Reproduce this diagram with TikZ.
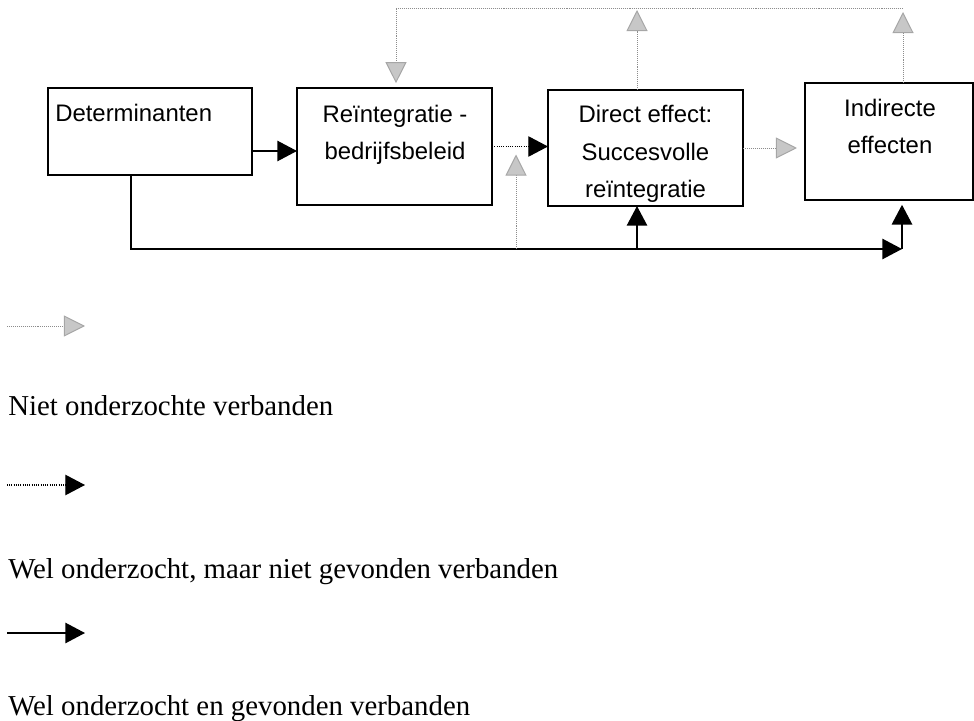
\documentclass[tikz,border=0pt]{standalone}
\usepackage{fontspec}
\setmainfont{Liberation Serif}
\newfontfamily\boxfont{Liberation Sans}
\usetikzlibrary{arrows.meta, positioning, calc}

\begin{document}
\begin{tikzpicture}[x=0.025cm, y=-0.025cm,
    box/.style={draw, line width=1pt, inner sep=0pt, outer sep=0pt},
    boxtext/.style={font=\boxfont\fontsize{17}{26.7}\selectfont, align=center, inner sep=0pt},
    found/.style={line width=1.1pt, -{Triangle[length=14pt, width=14.5pt]}},
    notfound/.style={line width=0.9pt, dash pattern=on 0.7pt off 0.9pt, -{Triangle[length=14pt, width=14.5pt]}},
    notstudied/.style={draw=black!45, line width=0.7pt, dash pattern=on 0.6pt off 0.8pt, -{Triangle[length=15pt, width=15pt, fill=black!22, color=black!35]}},
    legend/.style={font=\fontsize{20.5}{24}\selectfont, anchor=base west, inner sep=0pt}]
    \useasboundingbox (0,0) rectangle (974,721);

    % boxes
    \node[box, minimum width=5.1cm, minimum height=2.175cm] (det) at (150,131.5) {};
    \node[box, minimum width=4.875cm, minimum height=2.925cm] (reint) at (394.5,146.5) {};
    \node[box, minimum width=4.875cm, minimum height=2.9cm] (direct) at (645.5,148) {};
    \node[box, minimum width=4.2cm, minimum height=2.925cm] (indir) at (889,141.5) {};

    % texts, placed on the baseline of their last line
    \node[boxtext, anchor=base west] (dettxt) at (55,122) {Determinanten};
    \node[boxtext, anchor=base] (reinttxt) at (395,160) {Reïntegratie -\\bedrijfsbeleid};
    \node[boxtext, anchor=base] (directtxt) at (645.5,198) {Direct effect:\\Succesvolle\\reïntegratie};
    \node[boxtext, anchor=base] (indirtxt) at (890,154) {Indirecte\\effecten};

    % corners of the connectors
    \coordinate (row) at (0,151);
    \coordinate (bl) at (131,249);
    \coordinate (jm) at (516,249);
    \coordinate (jd) at (637,249);
    \coordinate (br) at (902,249);
    \coordinate (tl) at (396,8);
    \coordinate (tm) at (637,8);
    \coordinate (tr) at (903,8);

    \draw[found] (det.east |- row) -- (reint.west |- row);
    \draw[notfound] (reint.east) -- (reint.east -| direct.west);
    \draw[notstudied, shorten >=0.2cm] (direct.east) -- (direct.east -| indir.west);
    \draw[found] (det.south -| bl) -- (bl) -- (br);
    \draw[found] (jd) -- (jd |- direct.south);
    \draw[found, shorten >=0.12cm] (br) -- (br |- indir.south);
    \draw[notstudied, shorten >=0.2cm] (jm) -- (jm |- reint.east);
    \draw[notstudied, shorten >=0.05cm] (tm |- direct.north) -- (tm);
    \draw[notstudied, shorten >=0.1cm] (tr |- indir.north) -- (tr);
    \draw[notstudied, shorten >=0.12cm] (tr) -- (tl) -- (tl |- reint.north);

    % legend
    \coordinate (keya1) at (7,326);  \coordinate (keya2) at (85,326);
    \coordinate (keyb1) at (7,485);  \coordinate (keyb2) at (85,485);
    \coordinate (keyc1) at (7,633);  \coordinate (keyc2) at (85,633);
    \draw[notstudied] (keya1) -- (keya2);
    \draw[notfound] (keyb1) -- (keyb2);
    \draw[found] (keyc1) -- (keyc2);
    \node[legend] (leg1) at (8,415) {Niet onderzochte verbanden};
    \node[legend] (leg2) at (8,578) {Wel onderzocht, maar niet gevonden verbanden};
    \node[legend] (leg3) at (8,715) {Wel onderzocht en gevonden verbanden};
\end{tikzpicture}
\end{document}
